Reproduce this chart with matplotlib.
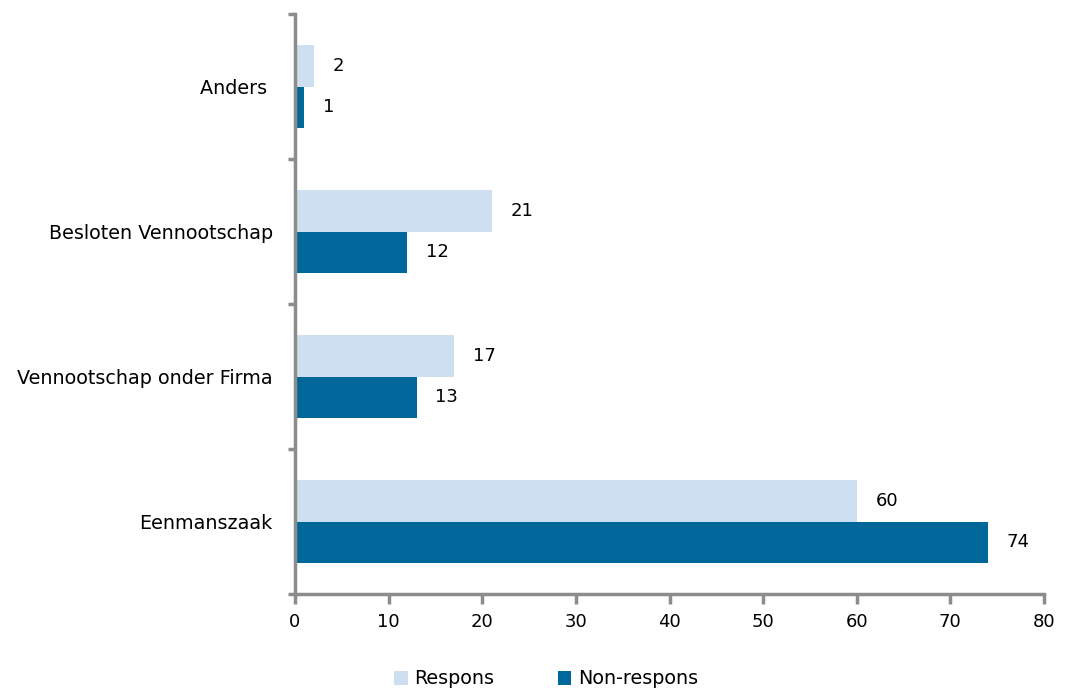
import matplotlib
matplotlib.use("Agg")
import matplotlib.pyplot as plt
import numpy as np

categories = ["Eenmanszaak", "Vennootschap onder Firma", "Besloten Vennootschap", "Anders "]
respons = [60, 17, 21, 2]
non_respons = [74, 13, 12, 1]
x_ticks = [0, 10, 20, 30, 40, 50, 60, 70, 80]

LIGHT = "#cddff1"
DARK = "#00679a"
AXIS = "#8c8c8c"
FS = 13      # numbers
FS_TXT = 13.8  # category labels and legend

plt.rcParams["font.family"] = ["DejaVu Sans"]
plt.rcParams["font.size"] = FS

fig = plt.figure(figsize=(10.66, 6.95), dpi=100)
ax = fig.add_axes([295 / 1066, 1 - 594 / 695, (1044 - 295) / 1066, (594 - 14) / 695])

centers = np.arange(len(categories)) + 0.5
h = 0.283
b1 = ax.barh(centers + h / 2, respons, height=h, color=LIGHT, label="Respons")
b2 = ax.barh(centers - h / 2, non_respons, height=h, color=DARK, label="Non-respons")

for yc, v in zip(centers + h / 2, respons):
    ax.text(v + 2.0, yc, str(v), va="center", ha="left", fontsize=FS)
for yc, v in zip(centers - h / 2, non_respons):
    ax.text(v + 2.0, yc, str(v), va="center", ha="left", fontsize=FS)

ax.set_xlim(0, 80)
ax.set_ylim(0, len(categories))
ax.set_xticks(x_ticks)
ax.set_xticklabels([str(t) for t in x_ticks], fontsize=FS)
ax.set_yticks(np.arange(len(categories) + 1))
ax.set_yticklabels([])
ax.set_yticks(centers, minor=True)
ax.set_yticklabels(categories, minor=True, fontsize=FS_TXT)
ax.tick_params(axis="y", which="minor", length=0, pad=16)
ax.tick_params(axis="y", which="major", length=5, width=2.5, color=AXIS)
ax.tick_params(axis="x", length=7, width=2.5, color=AXIS, pad=7)

for s in ["top", "right"]:
    ax.spines[s].set_visible(False)
for s in ["left", "bottom"]:
    ax.spines[s].set_color(AXIS)
    ax.spines[s].set_linewidth(2.5)

fig.legend(handles=[b1, b2], loc="center", bbox_to_anchor=(546 / 1066, 1 - 679 / 695),
           ncol=2, frameon=False, fontsize=FS_TXT, handlelength=0.7, handleheight=0.7,
           columnspacing=3.3, handletextpad=0.35)

fig.savefig("out.png", dpi=100)
